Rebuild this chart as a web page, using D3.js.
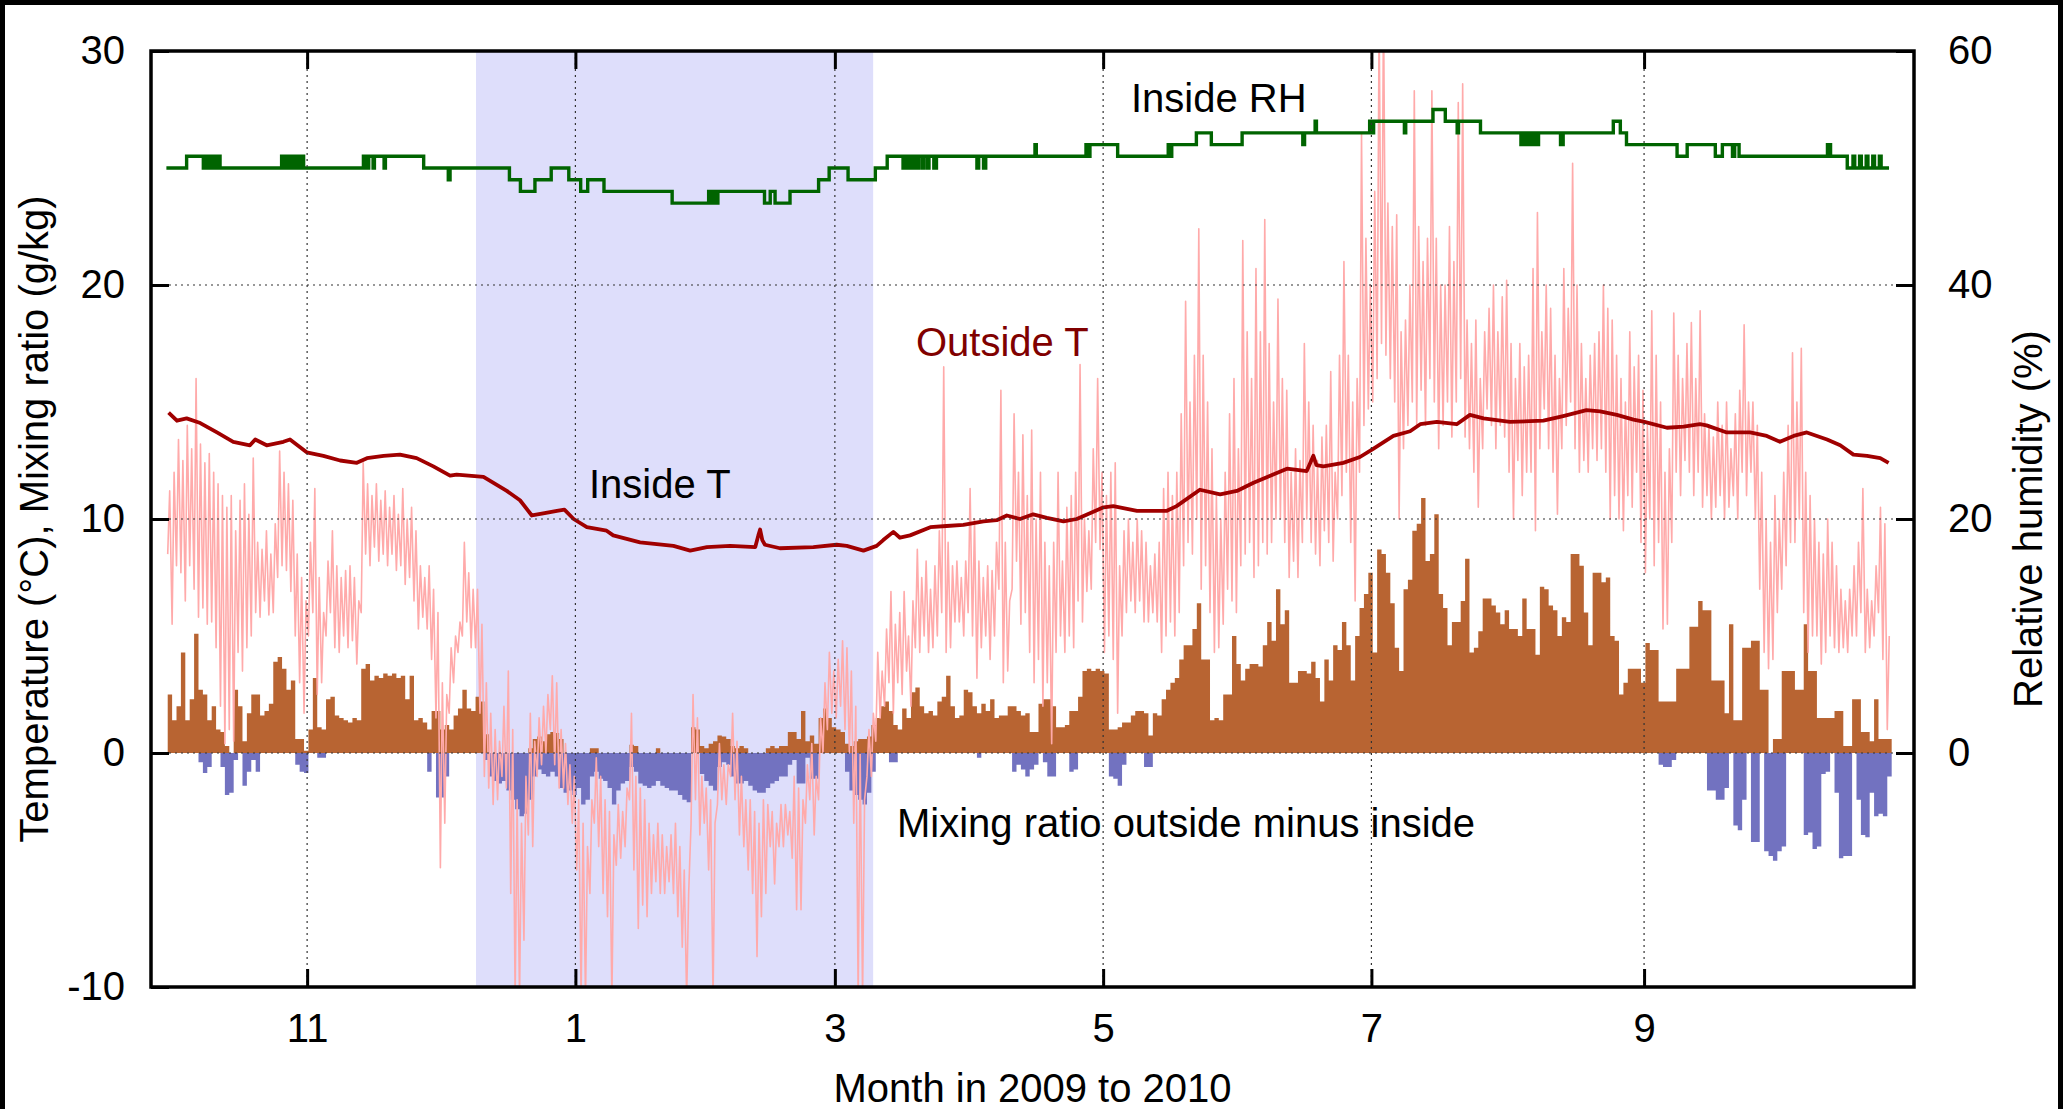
<!DOCTYPE html>
<html>
<head>
<meta charset="utf-8">
<script src="https://cdn.jsdelivr.net/npm/d3@7"></script>
<style>
  html, body { margin: 0; padding: 0; background: #000; }
  svg { display: block; }
  text { font-family: "Liberation Sans", Arial, Helvetica, sans-serif; }
</style>
</head>
<body>
<svg id="chart" width="2063" height="1109"></svg>
<script>
// ---------------- DATA ----------------
// day 0 = 2009-09-30 (UTC). Daily series start at day 0.
const seriesStart = "2009-09-30T00:00:00Z";
const axisDomain = ["2009-09-26T12:00:00Z", "2010-11-01T09:00:00Z"];
const monthTicks = ["2009-11-01", "2010-01-01", "2010-03-01", "2010-05-01", "2010-07-01", "2010-09-01"];
const monthTickLabels = ["11", "1", "3", "5", "7", "9"];
const leftTicks = [-10, 0, 10, 20, 30];
const leftTickLabels = ["-10", "0", "10", "20", "30"];
const rightTicks = [0, 20, 40, 60];
const rightTickLabels = ["0", "20", "40", "60"];
const heatingSeason = ["2009-12-09T09:30:00Z", "2010-03-09T17:00:00Z"];

// Outside temperature, daily maximum / minimum (deg C)
const outsideTMax = [
  11.2, 12.0, 13.4, 12.5, 14.0, 13.0, 16.0, 13.2, 12.4, 12.8,
  12.0, 11.5, 11.0, 10.5, 11.0, 9.5, 10.8, 11.5, 10.2, 12.6,
  9.0, 8.7, 9.5, 8.5, 9.8, 12.9, 12.0, 11.5, 10.8, 8.5,
  7.5, 6.5, 9.0, 11.3, 7.5, 6.0, 8.2, 9.5, 8.0, 7.5,
  7.8, 8.0, 7.5, 6.5, 12.4, 11.5, 11.0, 11.5, 10.8, 11.2,
  10.5, 11.0, 10.2, 11.3, 10.0, 10.5, 9.5, 8.0, 7.5, 8.0,
  7.0, 6.0, 3.0, 2.5, 4.5, 5.0, 5.6, 9.0, 7.7, 7.0,
  7.0, 5.5, 3.0, 1.7, 1.0, 0.5, 2.0, 3.5, 1.0, -2.0,
  -3.0, -1.0, 1.7, 0.5, 1.5, 2.0, 2.5, 3.3, 3.0, 1.0,
  0.4, -0.5, -1.0, -2.0, -3.0, -4.0, -2.0, -0.2, -1.0, -2.0,
  -2.5, -3.5, -2.2, -2.5, -1.5, 1.7, -1.0, -1.5, -2.0, -3.0,
  -3.5, -3.0, -3.5, -4.0, -3.5, -3.0, -4.0, -5.0, -6.0, 2.5,
  1.5, -1.0, -1.5, -2.0, -3.0, 0.4, -0.5, -0.5, 1.7, 0.5,
  -1.0, -2.0, -2.0, -2.5, -3.0, -2.0, -2.2, -2.5, -3.0, -2.2,
  -2.2, -2.5, -1.0, -1.5, -2.0, -0.5, 0.4, -1.0, 1.5, 3.0,
  4.3, 3.5, 4.0, 4.8, 4.5, 3.5, 2.0, 0.0, -2.0, 1.0,
  1.7, 4.3, 3.5, 5.3, 6.9, 5.5, 6.0, 6.9, 5.0, 6.5,
  8.7, 7.5, 8.2, 7.0, 8.0, 9.5, 16.5, 9.0, 8.0, 8.2,
  7.5, 8.2, 11.3, 10.0, 8.2, 7.5, 8.0, 7.8, 9.0, 15.5,
  9.0, 6.5, 14.5, 12.0, 13.6, 11.0, 13.8, 10.0, 12.0, 9.0,
  8.0, 9.0, 12.0, 8.2, 10.5, 11.0, 12.0, 16.6, 10.0, 9.5,
  13.0, 16.0, 12.0, 11.0, 12.0, 12.4, 8.0, 9.5, 10.0, 9.0,
  10.0, 9.5, 9.0, 8.0, 8.5, 9.0, 11.3, 12.0, 11.0, 12.0,
  14.5, 19.3, 15.0, 17.0, 22.4, 17.0, 15.0, 13.0, 11.0, 10.0,
  12.0, 14.5, 16.0, 13.0, 21.9, 18.0, 16.0, 20.7, 18.0, 22.8,
  17.5, 15.0, 19.4, 16.0, 15.5, 12.0, 13.0, 12.5, 17.5, 15.0,
  14.0, 12.5, 13.5, 14.0, 16.3, 12.0, 17.0, 21.0, 17.0, 15.0,
  16.0, 26.5, 22.0, 20.0, 24.0, 31.5, 32.0, 23.5, 22.5, 23.0,
  18.0, 18.5, 20.0, 28.3, 22.5, 21.0, 22.0, 28.3, 22.0, 20.0,
  20.0, 22.5, 21.0, 27.8, 28.6, 18.5, 17.5, 18.5, 16.0, 18.0,
  19.0, 20.0, 18.0, 19.5, 20.2, 17.5, 16.0, 17.5, 16.5, 17.0,
  20.7, 23.1, 18.0, 20.0, 19.0, 17.0, 16.0, 20.7, 19.0, 25.2,
  20.0, 17.5, 16.0, 17.0, 17.5, 18.0, 20.0, 19.0, 18.5, 17.0,
  16.0, 15.0, 18.0, 16.5, 17.0, 15.5, 14.0, 18.9, 17.0, 15.0,
  12.0, 13.0, 18.8, 17.0, 16.0, 17.5, 18.4, 16.0, 18.9, 14.5,
  14.0, 13.5, 15.0, 14.0, 15.0, 13.0, 14.5, 15.5, 18.3, 15.0,
  15.0, 14.0, 12.0, 10.0, 9.0, 11.0, 10.0, 12.0, 14.0, 17.1,
  15.0, 17.3, 12.0, 11.0, 10.0, 9.0, 8.5, 10.0, 9.0, 8.0,
  7.0, 6.5, 7.0, 8.0, 9.0, 11.3, 7.0, 6.5, 8.0, 10.5,
  9.8, 5.0
];
const outsideTMin = [
  8.5, 5.5, 8.0, 7.7, 6.5, 8.0, 7.0, 5.8, 6.2, 5.5,
  5.6, 4.5, 2.0, 0.4, 1.0, 0.5, 4.3, 3.5, 4.5, 5.0,
  6.0, 5.8, 6.5, 5.9, 6.0, 7.5, 8.0, 7.8, 6.9, 5.0,
  3.0, 1.7, 5.0, 6.0, 2.5, 3.0, 5.0, 6.0, 4.5, 4.3,
  5.0, 4.5, 4.8, 3.8, 6.0, 8.5, 8.0, 8.8, 8.2, 8.5,
  8.0, 8.5, 7.8, 8.0, 7.2, 7.5, 6.5, 5.3, 5.8, 5.3,
  4.0, 1.5, -4.9, -3.0, 1.7, 3.0, 4.3, 5.0, 5.6, 4.5,
  4.5, 1.7, -1.0, -1.5, -2.2, -2.0, -1.0, -1.5, -6.0, -10.5,
  -10.5, -8.0, -3.5, -4.0, -1.0, -0.5, 0.0, 1.0, -0.5, -1.5,
  -1.5, -2.2, -3.0, -5.0, -10.5, -10.5, -6.0, -3.0, -4.0, -6.0,
  -7.0, -10.5, -4.8, -4.5, -4.0, -2.0, -5.0, -7.5, -6.5, -7.0,
  -6.0, -5.5, -6.0, -6.0, -5.5, -6.0, -7.0, -8.3, -10.5, -3.0,
  -2.0, -3.5, -3.0, -5.0, -10.5, -2.2, -2.0, -2.2, -1.0, -2.0,
  -3.5, -4.0, -5.0, -6.0, -8.7, -7.0, -6.0, -4.0, -5.6, -4.0,
  -4.0, -3.5, -4.5, -6.7, -6.7, -3.0, -2.0, -3.5, -2.0, 0.0,
  1.0, 1.7, 1.5, 2.0, 1.0, 0.0, -3.0, -10.5, -10.5, -1.0,
  -1.0, 0.5, 1.5, 2.0, 3.0, 1.7, 3.0, 2.5, 3.5, 2.0,
  4.5, 4.3, 5.0, 4.3, 4.5, 5.0, 6.0, 4.3, 4.5, 5.6,
  5.6, 5.0, 6.0, 5.0, 3.2, 4.5, 5.0, 4.0, 5.0, 7.0,
  3.0, 3.5, 7.0, 8.2, 5.5, 6.0, 4.3, 3.0, 4.0, 2.0,
  3.0, 0.4, 4.3, 5.0, 4.3, 5.0, 4.5, 6.5, 5.6, 6.9,
  7.0, 9.0, 8.7, 4.3, 5.0, 4.0, 1.7, 5.0, 6.0, 6.5,
  6.0, 6.5, 5.6, 5.6, 6.0, 5.6, 4.3, 5.0, 5.6, 5.0,
  6.0, 8.0, 9.0, 8.5, 10.0, 7.0, 8.0, 6.0, 4.3, 4.5,
  5.5, 7.0, 6.5, 6.0, 8.0, 8.5, 9.0, 7.5, 8.0, 9.0,
  8.5, 9.0, 10.0, 10.0, 9.0, 7.5, 8.2, 7.5, 9.0, 10.0,
  9.0, 8.5, 8.0, 9.5, 9.0, 8.2, 10.0, 11.0, 12.0, 9.0,
  6.5, 12.0, 14.0, 14.7, 15.0, 16.0, 17.5, 17.0, 16.0, 15.0,
  10.0, 13.0, 14.0, 15.0, 14.0, 15.5, 14.0, 16.0, 15.0, 13.0,
  14.0, 15.0, 13.5, 15.0, 16.0, 13.5, 13.0, 12.0, 10.5, 13.0,
  14.7, 14.0, 13.0, 14.0, 13.5, 12.0, 10.0, 12.5, 11.0, 12.0,
  12.0, 9.5, 13.0, 14.7, 13.0, 12.0, 10.2, 13.0, 14.0, 15.0,
  13.0, 12.0, 12.5, 12.0, 13.0, 12.5, 13.0, 12.0, 10.0, 11.0,
  10.0, 9.5, 11.0, 10.5, 12.0, 9.0, 7.7, 10.0, 8.0, 9.0,
  5.3, 5.5, 9.0, 12.0, 11.0, 12.5, 12.0, 11.0, 12.0, 10.5,
  11.0, 10.0, 10.5, 11.0, 10.0, 10.5, 11.0, 10.0, 12.0, 11.0,
  12.0, 10.0, 7.0, 4.3, 3.6, 4.0, 6.0, 7.0, 8.0, 9.0,
  9.0, 10.0, 6.0, 4.3, 5.0, 5.0, 3.8, 4.3, 5.0, 4.5,
  4.3, 4.5, 4.3, 5.0, 5.0, 6.0, 4.3, 4.5, 5.0, 6.0,
  4.0, 1.0
];

// Mixing ratio outside minus inside (g/kg): daily highest and lowest value
const mixingHigh = [
  2.5, 1.4, 2.0, 4.3, 1.4, 2.3, 5.1, 2.7, 2.5, 1.4,
  2.0, 1.0, 0.9, 0.3, 0, 2.7, 2.0, 0.5, 1.7, 2.5,
  2.5, 1.6, 1.8, 2.1, 3.9, 4.1, 3.6, 2.7, 3.1, 0.6,
  0.6, 0.1, 1.0, 3.2, 1.1, 1.0, 2.3, 2.4, 1.6, 1.5,
  1.4, 1.3, 1.5, 1.4, 3.6, 3.8, 3.1, 3.3, 3.2, 3.4,
  3.3, 3.4, 3.2, 3.3, 2.3, 3.3, 1.4, 1.5, 1.3, 1.0,
  1.8, 1.8, 1.0, 1.2, 1.0, 1.6, 1.9, 2.7, 1.9, 1.8,
  2.4, 2.2, 0.8, 0, 0, 0, 0, 0, 0, 0,
  0, 0, 0.2, 0.6, 0.7, 0.5, 0.8, 0.9, 0.85, 0.6,
  0, 0, 0, 0, 0, 0, 0.2, 0.2, 0, 0,
  0, 0, 0, 0, 0, 0.35, 0.3, 0, 0, 0,
  0, 0.2, 0, 0, 0, 0, 0, 0, 0, 1.1,
  1.0, 0.3, 0.2, 0.4, 0.5, 0.75, 0.7, 0.6, 0.3, 0.2,
  0.3, 0.2, 0, 0, 0, 0, 0.2, 0.3, 0.2, 0.3,
  0.3, 0.9, 0.9, 0.6, 1.8, 0.5, 0.75, 0.4, 1.5, 1.9,
  1.5, 1.1, 1.0, 0.9, 0.4, 0.3, 0.5, 0.6, 0.6, 0.7,
  1.2, 1.5, 2.0, 2.2, 1.8, 1.2, 1.0, 1.9, 1.5, 2.6,
  2.8, 2.0, 1.7, 1.8, 1.6, 2.2, 2.4, 3.3, 2.0, 1.5,
  1.6, 2.7, 2.6, 2.0, 1.7, 2.1, 1.8, 2.3, 1.5, 1.6,
  1.6, 2.0, 2.0, 1.8, 1.6, 1.7, 0.9, 0.9, 2.1, 2.3,
  2.3, 2.0, 1.1, 1.1, 1.2, 1.8, 1.8, 2.4, 3.5, 3.6,
  3.5, 3.6, 3.5, 3.4, 1.0, 1.0, 1.1, 1.3, 1.3, 1.6,
  1.8, 1.8, 1.7, 0.75, 1.7, 1.6, 2.3, 2.7, 3.0, 3.2,
  4.0, 4.6, 4.6, 5.3, 6.4, 4.0, 4.0, 1.4, 1.5, 1.4,
  2.5, 2.5, 5.0, 3.8, 3.1, 3.6, 3.8, 3.8, 3.7, 4.6,
  5.6, 4.8, 7.0, 5.5, 6.1, 3.0, 3.0, 3.5, 3.5, 3.4,
  3.9, 3.2, 2.2, 4.0, 3.1, 4.6, 4.4, 5.6, 4.6, 3.1,
  5.0, 6.2, 6.8, 7.7, 4.3, 8.7, 8.5, 7.7, 6.4, 4.5,
  3.5, 7.0, 7.4, 9.5, 9.8, 10.9, 8.2, 8.5, 10.2, 6.8,
  6.2, 4.6, 5.6, 5.6, 6.5, 8.3, 4.3, 4.5, 5.2, 6.6,
  6.6, 6.3, 6.0, 5.5, 6.1, 5.3, 5.3, 5.0, 6.6, 5.3,
  5.3, 4.2, 7.1, 7.0, 6.3, 6.1, 5.0, 5.8, 5.6, 8.5,
  8.5, 8.0, 6.0, 4.6, 7.7, 7.7, 7.3, 7.5, 5.0, 4.8,
  2.5, 3.0, 3.6, 3.6, 3.6, 3.0, 4.7, 4.4, 4.4, 2.2,
  2.2, 2.2, 2.2, 3.6, 3.6, 3.6, 5.4, 5.4, 6.5, 6.1,
  6.1, 3.1, 3.1, 3.1, 1.7, 5.5, 1.4, 1.4, 4.5, 4.5,
  4.8, 4.8, 2.7, 2.7, 0, 0.6, 0.6, 3.5, 3.5, 3.5,
  2.7, 2.7, 5.5, 3.5, 3.5, 1.5, 1.5, 1.5, 1.5, 1.8,
  1.8, 0.3, 0.3, 2.3, 2.3, 0.9, 0.9, 0.5, 2.3, 0.6,
  0.6, 0.6
];
const mixingLow = [
  0, 0, 0, 0, 0, 0, 0, -0.4, -0.85, -0.6,
  0, 0, -0.6, -1.8, -1.7, -0.3, 0, -1.4, -0.8, -0.3,
  -0.8, 0, 0, 0, 0, 0, 0, 0, 0, -0.5,
  -0.8, -0.85, 0, 0, -0.2, -0.2, 0, 0, 0, 0,
  0, 0, 0, 0, 0, 0, 0, 0, 0, 0,
  0, 0, 0, 0, 0, 0, 0, 0, 0, -0.8,
  0, -1.9, -1.9, -1.0, 0, 0, 0, 0, 0, 0,
  0, 0, -0.3, -1.0, -1.2, -1.3, -1.2, -1.6, -2.0, -2.4,
  -2.7, -2.6, -2.0, -1.0, -0.7, -0.9, -1.0, -0.8, -1.0, -1.5,
  -1.7, -1.6, -1.8, -1.5, -2.2, -2.0, -1.0, -0.8, -1.1, -1.2,
  -1.5, -2.2, -1.6, -1.3, -1.2, -0.6, -0.8, -1.3, -1.4, -1.5,
  -1.4, -1.2, -1.4, -1.5, -1.6, -1.6, -1.8, -2.0, -2.1, 0,
  0, -0.9, -1.2, -1.4, -1.6, -0.6, -0.4, -0.5, -1.0, -1.3,
  -1.3, -1.2, -1.4, -1.6, -1.7, -1.7, -1.5, -1.3, -1.2, -1.0,
  -1.0, -0.5, -0.3, -1.3, -1.3, -0.2, -1.1, -1.1, 0, 0,
  0, 0, 0, 0, -0.8, -1.6, -1.8, -2.0, -2.2, -1.7,
  -0.8, 0, 0, 0, -0.4, -0.4, 0, 0, 0, 0,
  0, 0, 0, 0, 0, 0, 0, 0, 0, 0,
  0, 0, 0, 0, -0.2, 0, 0, 0, 0, 0,
  0, 0, -0.8, -0.5, -0.7, -1.0, -0.7, -0.5, 0, -0.4,
  -1.0, -1.0, 0, 0, 0, -0.8, -0.7, 0, 0, 0,
  0, 0, 0, 0, -1.0, -1.1, -1.4, -0.5, 0, 0,
  0, 0, -0.6, -0.6, 0, 0, 0, 0, 0, 0,
  0, 0, 0, 0, 0, 0, 0, 0, 0, 0,
  0, 0, 0, 0, 0, 0, 0, 0, 0, 0,
  0, 0, 0, 0, 0, 0, 0, 0, 0, 0,
  0, 0, 0, 0, 0, 0, 0, 0, 0, 0,
  0, 0, 0, 0, 0, 0, 0, 0, 0, 0,
  0, 0, 0, 0, 0, 0, 0, 0, 0, 0,
  0, 0, 0, 0, 0, 0, 0, 0, 0, 0,
  0, 0, 0, 0, 0, 0, 0, 0, 0, 0,
  0, 0, 0, 0, 0, 0, 0, 0, 0, 0,
  0, 0, 0, 0, 0, 0, 0, 0, 0, 0,
  0, 0, 0, 0, 0, 0, 0, 0, 0, -0.5,
  -0.6, -0.6, -0.3, 0, 0, 0, 0, 0, 0, 0,
  -1.6, -1.6, -2.0, -2.0, -1.5, 0, -3.1, -3.3, -2.0, 0,
  -3.8, -3.8, 0, -4.2, -4.4, -4.6, -4.2, -4.0, 0, 0,
  0, 0, -3.5, -3.4, -4.1, -4.0, -0.9, -0.8, 0, -1.7,
  -4.5, -4.4, -4.4, 0, -2.0, -3.5, -3.6, -1.7, -2.7, -2.6,
  -2.7, -1.0
];

// Inside temperature (deg C): day offset and value
const insideTDay = [
  0.5, 2.4, 4.6, 7.7, 11.5, 15.2, 19, 20.2, 22.8, 26.6, 28.1, 31.9, 35.7, 39.5, 43.3, 45.6, 49.4, 53.1, 56.9, 60.7,
  64.5, 66, 72.1, 77.4, 80.4, 83.1, 86, 88.8, 90.5, 92.6, 95.6, 100.1, 101.6, 107.7, 115.3, 119.1, 122.9, 128.2, 133.9, 134.6,
  135, 135.5, 136.1, 139.5, 147.1, 152.4, 154.7, 158.5, 161.5, 163, 165.3, 166.8, 169.1, 173.7, 177.4, 181.2, 185.8, 188.8, 191.1, 194.1,
  197.1, 200.2, 204, 207, 213.1, 215.3, 220.7, 227.5, 229.7, 235, 239.6, 243.4, 247.2, 251, 254.8, 259.3, 260.8, 261.5, 263.1, 267.6,
  271.4, 274.4, 279, 282.8, 285.1, 288.9, 293.4, 296.4, 299.5, 305.5, 313.1, 317.6, 322.9, 326, 329.8, 333.6, 336.1, 341.2, 345, 348.7,
  350.2, 354.8, 360.1, 363.9, 366.9, 370, 373, 377.6, 380.6, 383.6, 386.7, 389.7, 391.6
];
const insideTValue = [
  14.55, 14.2, 14.3, 14.1, 13.7, 13.3, 13.15, 13.4, 13.15, 13.3, 13.4, 12.85, 12.7, 12.5, 12.4, 12.6, 12.7, 12.75, 12.6, 12.25,
  11.85, 11.9, 11.8, 11.2, 10.8, 10.15, 10.25, 10.35, 10.4, 10.0, 9.65, 9.5, 9.3, 9.0, 8.85, 8.65, 8.8, 8.85, 8.8, 9.3,
  9.55, 9.1, 8.9, 8.75, 8.8, 8.9, 8.85, 8.65, 8.85, 9.1, 9.45, 9.2, 9.3, 9.65, 9.7, 9.75, 9.9, 9.95, 10.15, 10.0,
  10.2, 10.05, 9.9, 10.0, 10.5, 10.55, 10.35, 10.35, 10.55, 11.25, 11.05, 11.2, 11.55, 11.85, 12.15, 12.05, 12.7, 12.3, 12.25, 12.4,
  12.65, 13.0, 13.55, 13.75, 14.05, 14.15, 14.05, 14.45, 14.3, 14.15, 14.2, 14.4, 14.65, 14.6, 14.45, 14.25, 14.15, 13.9, 13.95, 14.05,
  14.0, 13.7, 13.7, 13.55, 13.3, 13.55, 13.7, 13.4, 13.15, 12.75, 12.7, 12.6, 12.4
];

// Inside relative humidity (%): day offset of each change and new value (step curve)
const insideRHDay = [
  0, 4.6, 8.4, 8.7, 9.1, 9.4, 9.9, 10.2, 10.7, 11.0, 11.5, 11.8, 12.2,
  26.2, 26.6, 26.9, 27.5, 27.8, 28.4, 28.7, 29.3, 29.6, 30.2, 30.5, 31.2,
  44.8, 45.5, 46.0, 47.0, 47.3, 49.5, 49.8, 58.5, 64.1, 64.5,
  78.0, 80.5, 83.8, 87.5, 91.5, 94.2, 95.8, 99.5, 115.0,
  123.3, 123.6, 124.0, 124.3, 124.7, 125.0, 125.4,
  136.0, 137.3, 138.4, 141.8, 148.3, 150.7, 155.0, 161.2, 163.9,
  167.5, 167.9, 168.4, 168.8, 169.5, 169.9, 170.6, 171.0, 171.8, 172.2, 173.0, 173.4, 174.5, 175.1,
  184.3, 184.7, 185.8, 186.3, 197.5, 197.8, 209.1, 209.5, 210.0, 216.3, 227.8, 228.2, 228.6,
  234.2, 237.6, 244.6, 258.4, 258.8, 261.2, 261.5, 273.6, 273.9, 274.5, 281.5, 281.8,
  288.0, 290.8, 293.5, 293.8, 298.8,
  308.0, 308.4, 308.8, 309.3, 309.7, 310.2, 310.6, 311.1, 311.5, 312.0,
  317.0, 317.6, 329.0, 330.6, 332.0, 343.5, 345.8, 352.2, 353.8, 356.1, 356.6, 357.6,
  377.7, 378.4, 382.2, 383.5, 383.9, 385.0, 385.4, 386.5, 386.9, 388.0, 388.4, 389.5, 389.9, 391.7
];
const insideRHValue = [
  50, 51, 50, 51, 50, 51, 50, 51, 50, 51, 50, 51, 50,
  51, 50, 51, 50, 51, 50, 51, 50, 51, 50, 51, 50,
  51, 50, 51, 50, 51, 50, 51, 50, 49, 50,
  49, 48, 49, 50, 49, 48, 49, 48, 47,
  48, 47, 48, 47, 48, 47, 48,
  47, 48, 47, 48, 49, 50, 49, 50, 51,
  50, 51, 50, 51, 50, 51, 50, 51, 50, 51, 50, 51, 50, 51,
  50, 51, 50, 51, 52, 51, 52, 51, 52, 51, 52, 51, 52,
  53, 52, 53, 52, 53, 54, 53, 54, 53, 54, 53, 54,
  55, 54, 53, 54, 53,
  52, 53, 52, 53, 52, 53, 52, 53, 52, 53,
  52, 53, 54, 53, 52, 51, 52, 51, 52, 51, 52, 51,
  52, 51, 50, 51, 50, 51, 50, 51, 50, 51, 50, 51, 50, 50
];

// ---------------- DRAWING ----------------
const W = 2063, H = 1109;
const M = { left: 151, right: 1914, top: 51, bottom: 987 };
const FONT = 40;

const svg = d3.select("#chart");
const base = new Date(seriesStart).getTime();
const dayDate = d => new Date(base + d * 864e5);

const x = d3.scaleUtc().domain(axisDomain.map(s => new Date(s))).range([M.left, M.right]);
const y = d3.scaleLinear().domain([-10, 30]).range([M.bottom, M.top]);
const y2 = d3.scaleLinear().domain([-20, 60]).range([M.bottom, M.top]);

// frame / background
svg.append("rect").attr("x", 0).attr("y", 0).attr("width", W).attr("height", H).attr("fill", "#000");
svg.append("rect").attr("x", 5).attr("y", 5).attr("width", W - 10).attr("height", H - 5).attr("fill", "#fff");

const defs = svg.append("defs");
defs.append("clipPath").attr("id", "plotClip").append("rect")
  .attr("x", M.left).attr("y", M.top).attr("width", M.right - M.left).attr("height", M.bottom - M.top);

const plot = svg.append("g").attr("clip-path", "url(#plotClip)");

// heating season shading
plot.append("rect")
  .attr("x", x(new Date(heatingSeason[0])))
  .attr("y", M.top)
  .attr("width", x(new Date(heatingSeason[1])) - x(new Date(heatingSeason[0])))
  .attr("height", M.bottom - M.top)
  .attr("fill", "#dedefb");

// mixing ratio fills (step)
const OFF = 0.3;
const mixIdx = d3.range(mixingHigh.length + 1);
const mixVal = (arr, i) => arr[Math.min(i, arr.length - 1)];
const posArea = d3.area().curve(d3.curveStepAfter)
  .x(i => x(dayDate(i + OFF))).y0(y(0)).y1(i => y(Math.max(0, mixVal(mixingHigh, i))));
const negArea = d3.area().curve(d3.curveStepAfter)
  .x(i => x(dayDate(i + OFF))).y0(y(0)).y1(i => y(Math.min(0, mixVal(mixingLow, i))));
plot.append("path").attr("d", posArea(mixIdx)).attr("fill", "#b86432");
plot.append("path").attr("d", negArea(mixIdx)).attr("fill", "#7272c0");

// outside temperature: daily min (early morning) then max (afternoon)
const outPts = [];
outsideTMax.forEach((mx, i) => {
  outPts.push([i + OFF, outsideTMin[i]]);
  outPts.push([i + 0.75, mx]);
});
plot.append("path")
  .attr("d", d3.line().x(p => x(dayDate(p[0]))).y(p => y(p[1]))(outPts))
  .attr("fill", "none").attr("stroke", "#ffaaaa").attr("stroke-width", 1.6).attr("stroke-linejoin", "round");

// inside temperature
plot.append("path")
  .attr("d", d3.line().x((d, i) => x(dayDate(d))).y((d, i) => y(insideTValue[i]))(insideTDay))
  .attr("fill", "none").attr("stroke", "#a00000").attr("stroke-width", 3.8).attr("stroke-linejoin", "round");

// inside RH (right axis), step curve
plot.append("path")
  .attr("d", d3.line().curve(d3.curveStepAfter).x(d => x(dayDate(d))).y((d, i) => y2(insideRHValue[i]))(insideRHDay))
  .attr("fill", "none").attr("stroke", "#006400").attr("stroke-width", 3.4);

// grid (front)
const grid = svg.append("g").attr("stroke", "#333").attr("stroke-width", 1.2).attr("stroke-dasharray", "2,4");
monthTicks.forEach(t => {
  const gx = x(new Date(t + "T00:00:00Z"));
  grid.append("line").attr("x1", gx).attr("x2", gx).attr("y1", M.top).attr("y2", M.bottom);
});
[0, 10, 20].forEach(v => {
  grid.append("line").attr("x1", M.left).attr("x2", M.right).attr("y1", y(v)).attr("y2", y(v));
});

// axes
const tickDates = monthTicks.map(t => new Date(t + "T00:00:00Z"));
const xAxis = d3.axisBottom(x).tickValues(tickDates).tickFormat((d, i) => monthTickLabels[i])
  .tickSizeInner(-18).tickSizeOuter(0).tickPadding(27);
const xAxisTop = d3.axisTop(x).tickValues(tickDates).tickFormat("").tickSizeInner(-18).tickSizeOuter(0);
const yAxis = d3.axisLeft(y).tickValues(leftTicks).tickFormat((d, i) => leftTickLabels[i])
  .tickSizeInner(-18).tickSizeOuter(0).tickPadding(26);
const y2Axis = d3.axisRight(y2).tickValues(rightTicks).tickFormat((d, i) => rightTickLabels[i])
  .tickSizeInner(-18).tickSizeOuter(0).tickPadding(34);

function styleAxis(g) {
  g.select(".domain").remove();
  g.selectAll(".tick line").attr("stroke", "#000").attr("stroke-width", 3);
  g.selectAll(".tick text").attr("font-size", FONT).attr("fill", "#000")
    .attr("font-family", "Liberation Sans, Arial, sans-serif");
}
svg.append("g").attr("transform", `translate(0,${M.bottom})`).call(xAxis).call(styleAxis);
svg.append("g").attr("transform", `translate(0,${M.top})`).call(xAxisTop).call(styleAxis);
svg.append("g").attr("transform", `translate(${M.left},0)`).call(yAxis).call(styleAxis);
svg.append("g").attr("transform", `translate(${M.right},0)`).call(y2Axis).call(styleAxis);

// border
svg.append("rect").attr("x", M.left).attr("y", M.top).attr("width", M.right - M.left).attr("height", M.bottom - M.top)
  .attr("fill", "none").attr("stroke", "#000").attr("stroke-width", 3.5);

// titles
const txt = (s, xx, yy, opts = {}) => {
  const t = svg.append("text").attr("x", xx).attr("y", yy).attr("font-size", FONT).attr("fill", opts.fill || "#000").text(s);
  if (opts.anchor) t.attr("text-anchor", opts.anchor);
  if (opts.rotate) t.attr("transform", `rotate(${opts.rotate},${xx},${yy})`);
  return t;
};
txt("Month in 2009 to 2010", (M.left + M.right) / 2, 1102, { anchor: "middle" });
txt("Temperature (\u00B0C), Mixing ratio (g/kg)", 48, (M.top + M.bottom) / 2, { anchor: "middle", rotate: -90 });
txt("Relative humidity (%)", 2042, (M.top + M.bottom) / 2, { anchor: "middle", rotate: -90 });

// series labels
txt("Inside RH", 1131, 112);
txt("Outside T", 916, 356, { fill: "#800000" });
txt("Inside T", 589, 498);
txt("Mixing ratio outside minus inside", 897, 837);
</script>
</body>
</html>
